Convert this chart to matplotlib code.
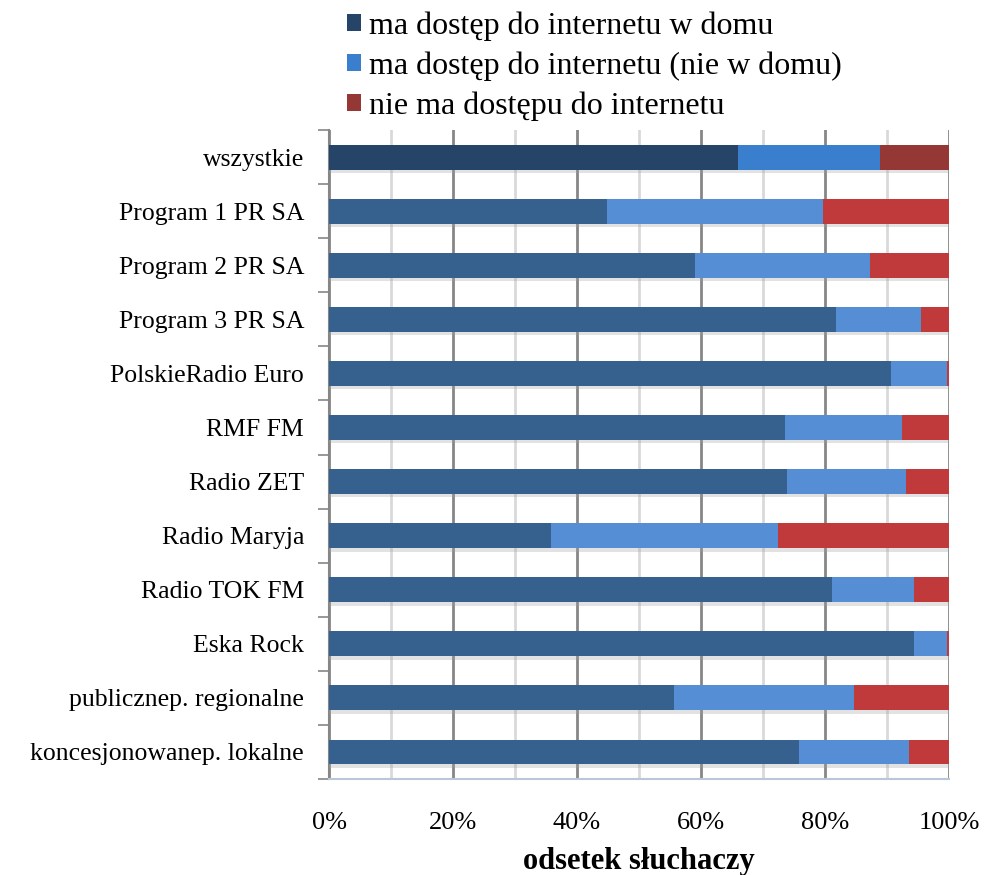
import numpy as np
import matplotlib.pyplot as plt
import matplotlib.patheffects as pe
from matplotlib.ticker import MultipleLocator, PercentFormatter

# --- Data (percent of listeners) ---
stations = ['wszystkie', 'Program 1 PR SA', 'Program 2 PR SA', 'Program 3 PR SA',
            'PolskieRadio Euro', 'RMF FM', 'Radio ZET', 'Radio Maryja',
            'Radio TOK FM', 'Eska Rock', 'publicznep. regionalne',
            'koncesjonowanep. lokalne']
at_home = [65.9, 44.9, 59.1, 81.7, 90.6, 73.6, 73.8, 35.8, 81.2, 94.3, 55.6, 75.8]
not_home = [23.0, 34.7, 28.2, 13.8, 9.1, 18.8, 19.3, 36.6, 13.1, 5.4, 29.0, 17.7]
no_access = [11.1, 20.4, 12.7, 4.5, 0.3, 7.6, 6.9, 27.6, 5.7, 0.3, 15.4, 6.5]
series_names = ['ma dostęp do internetu w domu',
                'ma dostęp do internetu (nie w domu)',
                'nie ma dostępu do internetu']

# --- Colours (first bar is highlighted with darker shades) ---
base_colors = ['#36618F', '#558ED5', '#C0393B']
highlight_colors = ['#264468', '#3A7FCE', '#953735']

plt.rcParams['font.family'] = ['Liberation Serif', 'DejaVu Serif']

fig = plt.figure(figsize=(9.84, 8.75), dpi=100)
ax = fig.add_axes([0.3344, 0.1097, 0.63, 0.7417])

y = np.arange(len(stations))
shadow = [pe.withSimplePatchShadow(offset=(0, -2.5), shadow_rgbFace='#A0A0A0', alpha=0.3)]

left = np.zeros(len(stations))
for k, vals in enumerate([at_home, not_home, no_access]):
    colors = [highlight_colors[k] if i == 0 else base_colors[k] for i in range(len(stations))]
    ax.barh(y, vals, left=left, height=0.46, color=colors, label=series_names[k],
            zorder=3, path_effects=shadow)
    left += np.array(vals)

ax.set_xlim(0, 100)
ax.set_ylim(len(stations) - 0.5, -0.5)

# --- Axes styling ---
ax.xaxis.set_major_locator(MultipleLocator(20))
ax.xaxis.set_minor_locator(MultipleLocator(10))
ax.xaxis.set_major_formatter(PercentFormatter(decimals=0))
ax.grid(axis='x', which='major', color='#868686', linewidth=2, zorder=0)
ax.grid(axis='x', which='minor', color='#D9D9D9', linewidth=2, zorder=0)
ax.tick_params(axis='x', which='both', length=0, pad=24, labelsize=19)

ax.set_yticks(y)
ax.set_yticklabels(stations)
ax.set_yticks(np.arange(-0.5, len(stations) + 0.5, 1), minor=True)
ax.tick_params(axis='y', which='major', length=0, pad=18, labelsize=18.5)
ax.tick_params(axis='y', which='minor', length=8, width=1.2, color='#868686')

for side in ['top', 'right']:
    ax.spines[side].set_visible(False)
ax.spines['left'].set_color('#868686')
ax.spines['left'].set_linewidth(1.5)
ax.spines['bottom'].set_color('#B9C7D9')
ax.spines['bottom'].set_linewidth(1.5)

ax.set_xlabel('odsetek słuchaczy', fontsize=22, fontweight='bold', labelpad=9)

# --- Legend ---
handles, labels = ax.get_legend_handles_labels()
leg = fig.legend(handles, labels, loc='upper left', bbox_to_anchor=(0.323, 1.02),
                 frameon=False, fontsize=23, handlelength=0.45, handleheight=0.45,
                 handletextpad=0.25, labelspacing=0.33)
for h in leg.legend_handles:
    h.set_path_effects([])

fig.savefig('out.png', dpi=100)
